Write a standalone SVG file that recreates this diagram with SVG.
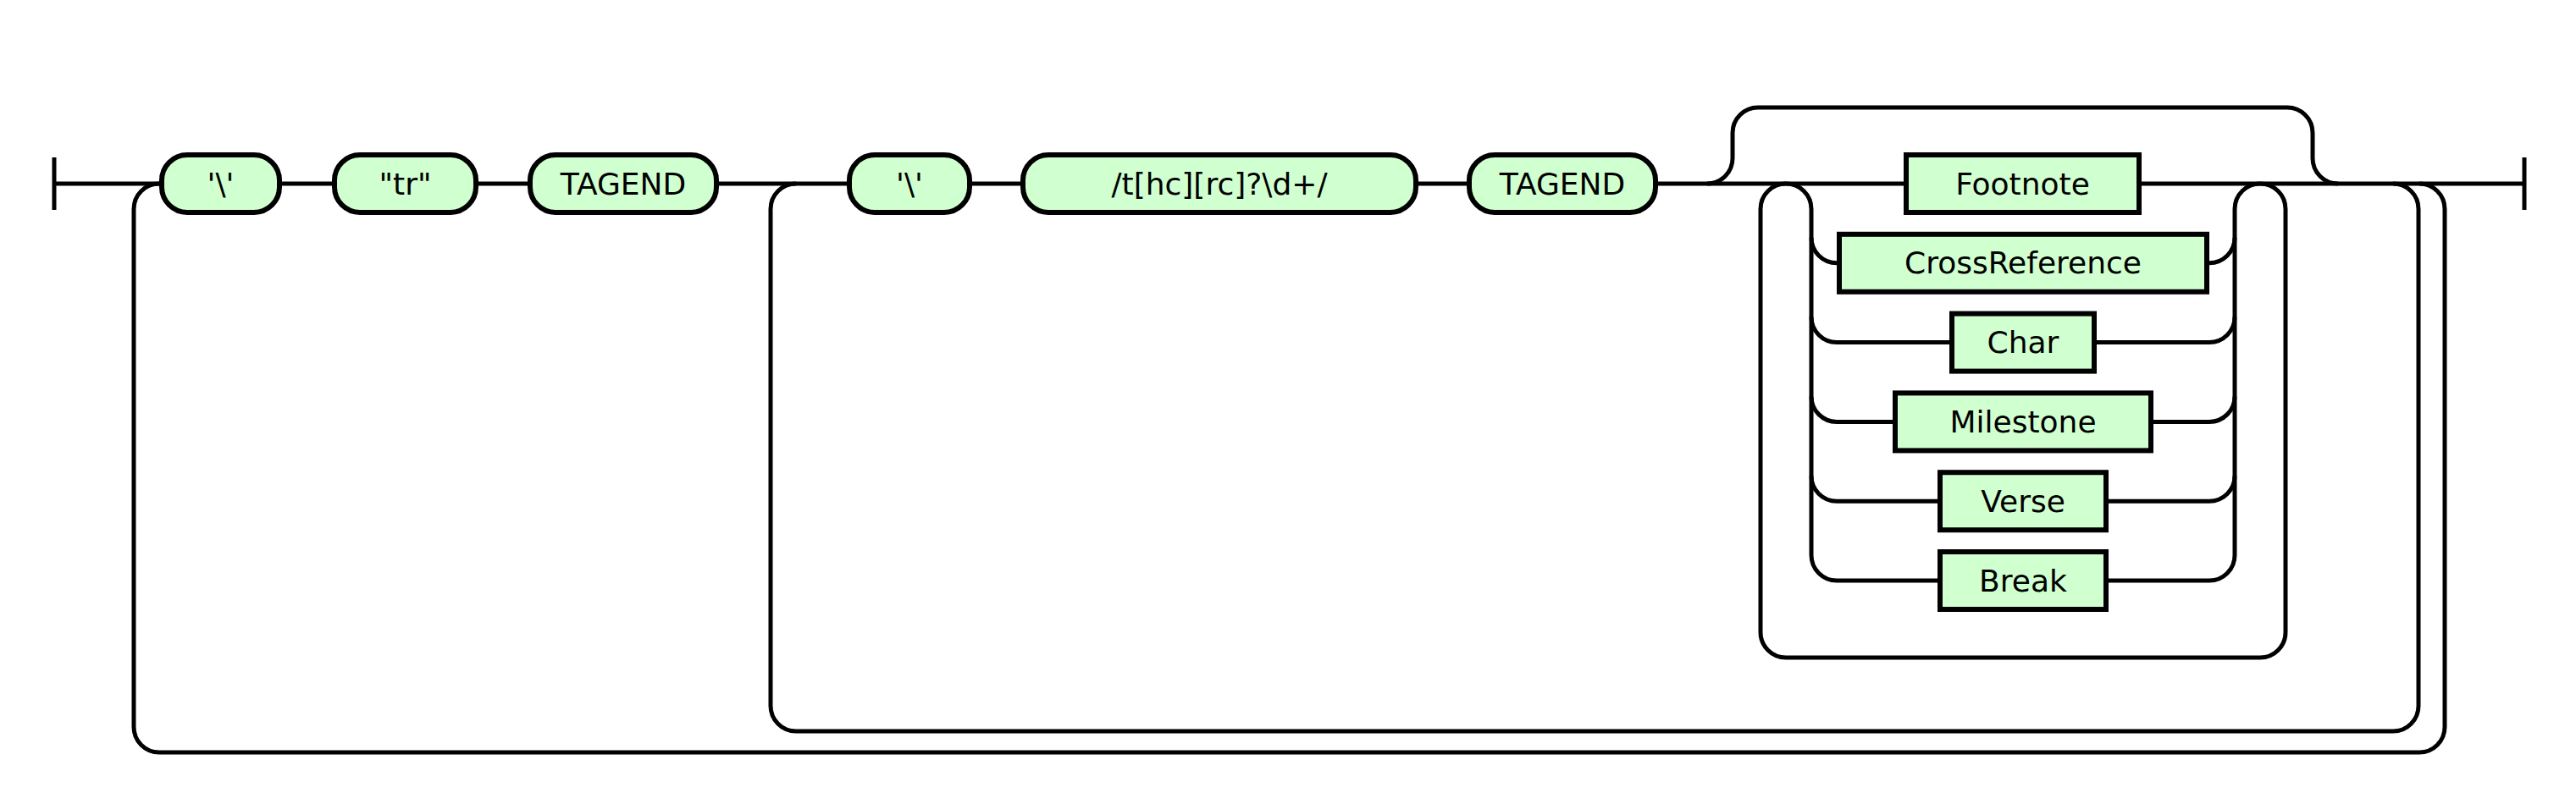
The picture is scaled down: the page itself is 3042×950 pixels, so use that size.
<svg xmlns="http://www.w3.org/2000/svg" width="3042" height="950" viewBox="0 0 3042 950">
<style>
.ln{fill:none;stroke:#000;stroke-width:5}
.term{fill:#d0ffd0;stroke:#000;stroke-width:6}
.nt{fill:#d0ffd0;stroke:#000;stroke-width:6}
text{font-family:"DejaVu Sans","Liberation Sans",sans-serif;font-size:36px;text-anchor:middle;fill:#000}
</style>
<rect x="0" y="0" width="3042" height="950" fill="#fff"/>
<g id="connectors">
<path class="ln" d="M64 186V248M64 217H2981M2981 186V248"/>
<path class="ln" d="M188 217A30 30 0 0 0 158 247V859A30 30 0 0 0 188 889H2857A30 30 0 0 0 2887 859V247A30 30 0 0 0 2857 217"/>
<path class="ln" d="M940 217A30 30 0 0 0 910 247V834A30 30 0 0 0 940 864H2826A30 30 0 0 0 2856 834V247A30 30 0 0 0 2826 217"/>
<path class="ln" d="M2016 217A30 30 0 0 0 2046 187V157A30 30 0 0 1 2076 127H2701A30 30 0 0 1 2731 157V187A30 30 0 0 0 2761 217"/>
<path class="ln" d="M2109 217A30 30 0 0 0 2079 247V747A30 30 0 0 0 2109 777H2669A30 30 0 0 0 2699 747V247A30 30 0 0 0 2669 217"/>
<path class="ln" d="M2109 217A30 30 0 0 1 2139 247V656M2639 656V247A30 30 0 0 1 2669 217"/>
<path class="ln" d="M2139 280.8A30 30 0 0 0 2169 310.8H2172M2606 310.8H2609A30 30 0 0 0 2639 280.8"/>
<path class="ln" d="M2139 374.6A30 30 0 0 0 2169 404.6H2305M2473 404.6H2609A30 30 0 0 0 2639 374.6"/>
<path class="ln" d="M2139 468.4A30 30 0 0 0 2169 498.4H2238M2540 498.4H2609A30 30 0 0 0 2639 468.4"/>
<path class="ln" d="M2139 562.2A30 30 0 0 0 2169 592.2H2291M2487 592.2H2609A30 30 0 0 0 2639 562.2"/>
<path class="ln" d="M2139 656A30 30 0 0 0 2169 686H2291M2487 686H2609A30 30 0 0 0 2639 656"/>
</g>
<g id="n1"><rect class="term" x="191" y="183" width="139" height="68" rx="30" ry="30"/><text x="260.5" y="229.5">'\'</text></g>
<g id="n2"><rect class="term" x="395" y="183" width="167" height="68" rx="30" ry="30"/><text x="478.5" y="229.5">"tr"</text></g>
<g id="n3"><rect class="term" x="626" y="183" width="220" height="68" rx="30" ry="30"/><text x="736" y="229.5">TAGEND</text></g>
<g id="n4"><rect class="term" x="1003" y="183" width="142" height="68" rx="30" ry="30"/><text x="1074" y="229.5">'\'</text></g>
<g id="n5"><rect class="term" x="1208" y="183" width="464" height="68" rx="30" ry="30"/><text x="1440" y="229.5">/t[hc][rc]?\d+/</text></g>
<g id="n6"><rect class="term" x="1735" y="183" width="220" height="68" rx="30" ry="30"/><text x="1845" y="229.5">TAGEND</text></g>
<g id="n7"><rect class="nt" x="2251" y="183" width="275" height="68"/><text x="2388.5" y="229.5">Footnote</text></g>
<g id="n8"><rect class="nt" x="2172" y="276.8" width="434" height="68"/><text x="2389" y="323.3">CrossReference</text></g>
<g id="n9"><rect class="nt" x="2305" y="370.6" width="168" height="68"/><text x="2389" y="417.1">Char</text></g>
<g id="n10"><rect class="nt" x="2238" y="464.4" width="302" height="68"/><text x="2389" y="510.9">Milestone</text></g>
<g id="n11"><rect class="nt" x="2291" y="558.2" width="196" height="68"/><text x="2389" y="604.7">Verse</text></g>
<g id="n12"><rect class="nt" x="2291" y="652" width="196" height="68"/><text x="2389" y="698.5">Break</text></g>
</svg>
